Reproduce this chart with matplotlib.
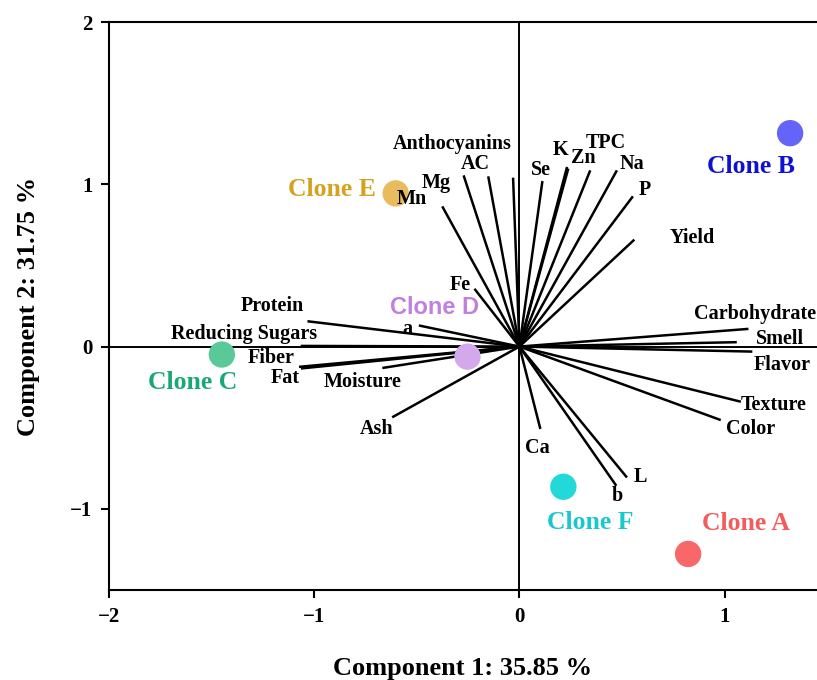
import matplotlib
matplotlib.use("Agg")
import matplotlib.pyplot as plt

# variable loadings (vector tips)
var_names = ["Anthocyanins", "AC", "Mg", "Mn", "Se", "K", "Zn", "TPC", "Na", "P",
             "Yield", "Fe", "a", "Protein", "Reducing Sugars", "Fiber", "Fat",
             "Moisture", "Ash", "Carbohydrate", "Smell", "Flavor", "Texture",
             "Color", "Ca", "L", "b"]
var_x = [-0.031, -0.152, -0.272, -0.376, 0.112, 0.232, 0.238, 0.345, 0.475, 0.553,
         0.560, -0.219, -0.490, -1.033, -1.066, -1.074, -1.065,
         -0.668, -0.620, 1.116, 1.059, 1.135, 1.079,
         0.981, 0.102, 0.524, 0.472]
var_y = [1.041, 1.049, 1.055, 0.864, 1.020, 1.107, 1.097, 1.086, 1.086, 0.926,
         0.659, 0.356, 0.130, 0.156, 0.004, -0.125, -0.135,
         -0.132, -0.436, 0.109, 0.027, -0.031, -0.340,
         -0.453, -0.508, -0.807, -0.858]
# label positions
lab_x = [-0.326, -0.214, -0.404, -0.526, 0.107, 0.200, 0.311, 0.423, 0.550, 0.613,
         0.842, -0.287, -0.545, -1.202, -1.343, -1.212, -1.139,
         -0.764, -0.696, 1.148, 1.270, 1.280, 1.241,
         1.124, 0.088, 0.589, 0.477]
lab_y = [1.247, 1.123, 1.006, 0.907, 1.086, 1.210, 1.160, 1.253, 1.123, 0.963,
         0.667, 0.377, 0.108, 0.247, 0.080, -0.068, -0.191,
         -0.216, -0.506, 0.198, 0.049, -0.111, -0.358,
         -0.506, -0.623, -0.802, -0.920]

# clone scores
clones = ["Clone A", "Clone B", "Clone C", "Clone D", "Clone E", "Clone F"]
clone_x = [0.822, 1.319, -1.450, -0.253, -0.603, 0.214]
clone_y = [-1.278, 1.315, -0.049, -0.062, 0.944, -0.864]
clone_lx = [1.102, 1.129, -1.591, -0.414, -0.915, 0.345]
clone_ly = [-1.093, 1.111, -0.222, 0.240, 0.969, -1.086]
marker_col = ["#F86868", "#6464F8", "#5AC99A", "#D4A8EC", "#E8BB5C", "#22D8D8"]
text_col = ["#F25C5C", "#1010D0", "#19A874", "#C080E0", "#D4A21E", "#18C8CC"]

serif = "Liberation Serif"

fig = plt.figure(figsize=(8.17, 6.8), dpi=100)
ax = fig.add_axes([0.1334, 0.1324, 0.8666, 0.8352])
ax.set_xlim(-2, 1.45)
ax.set_ylim(-1.5, 2)

ax.axhline(0, color="black", lw=1.4, zorder=1)
ax.axvline(0, color="black", lw=1.4, zorder=1)

for vx, vy in zip(var_x, var_y):
    ax.plot([0, vx], [0, vy], color="black", lw=1.8, solid_capstyle="butt", zorder=2)

for name, lx, ly in zip(var_names, lab_x, lab_y):
    ax.text(lx, ly, name, ha="center", va="center", fontsize=14.5,
            fontweight="bold", family=serif, zorder=4)

ax.scatter(clone_x, clone_y, s=360, c=marker_col, edgecolors="none", zorder=3)

for name, lx, ly, col in zip(clones, clone_lx, clone_ly, text_col):
    if name == "Clone D":
        fam, fs = "Liberation Sans", 17
    else:
        fam, fs = serif, 18.5
    ax.text(lx, ly, name, ha="center", va="center", fontsize=fs,
            fontweight="bold", family=fam, color=col, zorder=4)

ax.spines["right"].set_visible(False)
for s in ["left", "bottom", "top"]:
    ax.spines[s].set_linewidth(1.5)

ax.set_xticks([-2, -1, 0, 1])
ax.set_yticks([-1, 0, 1, 2])
ax.set_xticklabels(["\u22122", "\u22121", "0", "1"])
ax.set_yticklabels(["\u22121", "0", "1", "2"])
ax.tick_params(direction="out", length=6, width=1.5, labelsize=15, pad=6)
for t in ax.get_xticklabels() + ax.get_yticklabels():
    t.set_fontweight("bold")
    t.set_family(serif)

ax.set_xlabel("Component 1: 35.85 %", fontsize=19, fontweight="bold",
              family=serif, labelpad=22)
ax.set_ylabel("Component 2: 31.75 %", fontsize=19, fontweight="bold",
              family=serif, labelpad=22)

fig.savefig("out.png", dpi=100)
